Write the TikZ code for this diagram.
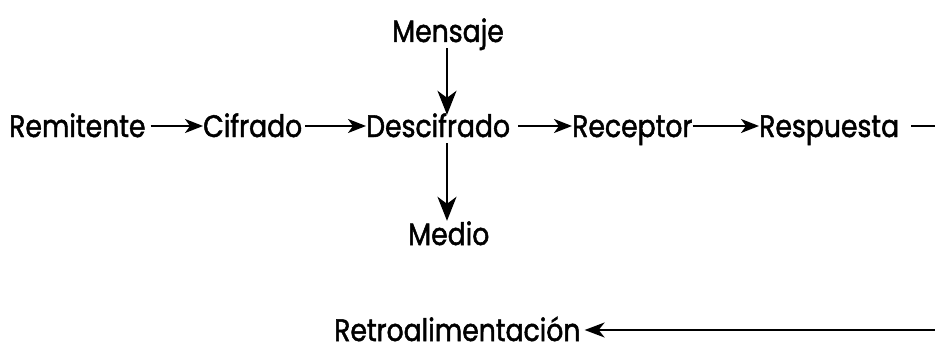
\documentclass[tikz,border=0pt]{standalone}
\usepackage{fontspec}
\setmainfont{Poppins}[FakeStretch=0.86,FakeBold=1.6]
\usetikzlibrary{arrows.meta}
\begin{document}
\begin{tikzpicture}[x=1pt,y=1pt,
  lbl/.style={anchor=base west,inner sep=0pt,text height=22pt,text depth=0pt,font=\fontsize{31}{34}\selectfont},
  harr/.style={line width=2pt,-{Stealth[length=18pt,width=14pt,inset=5pt]}},
  rarr/.style={line width=2pt,-{Stealth[length=20pt,width=15pt,inset=6pt]}},
  varr/.style={line width=2.2pt,-{Stealth[length=24pt,width=19pt,inset=7pt]}},
  hline/.style={line width=2pt}]
\useasboundingbox (0,0) rectangle (935,349);
\node[lbl] (rem) at (9,212) {Remitente};
\node[lbl] (cif) at (203,212) {Cifrado};
\node[lbl] (des) at (366,212) {Descifrado};
\node[lbl] (rec) at (572,212) {Receptor};
\node[lbl] (res) at (759,212) {Respuesta};
\node[lbl] (men) at (392,307) {Mensaje};
\node[lbl] (med) at (408,104) {Medio};
\node[lbl] (ret) at (334,8) {Retroalimentación};
\coordinate (vx) at (447,0);
\coordinate (rend) at (935,0);
\draw[harr] ([xshift=5pt]rem.east) -- (cif.west);
\draw[harr] ([xshift=3pt]cif.east) -- (des.west);
\draw[harr] ([xshift=8pt]des.east) -- (rec.west);
\draw[harr] (rec.east) -- (res.west);
\draw[hline] ([xshift=12pt]res.east) -- (res.east -| rend);
\draw[varr] ([yshift=-6pt]men.south -| vx) -- (des.north -| vx);
\draw[varr] ([yshift=-6pt]des.south -| vx) -- ([yshift=2pt]med.north -| vx);
\draw[rarr] (ret.east -| rend) -- ([xshift=4pt]ret.east);
\end{tikzpicture}
\end{document}
